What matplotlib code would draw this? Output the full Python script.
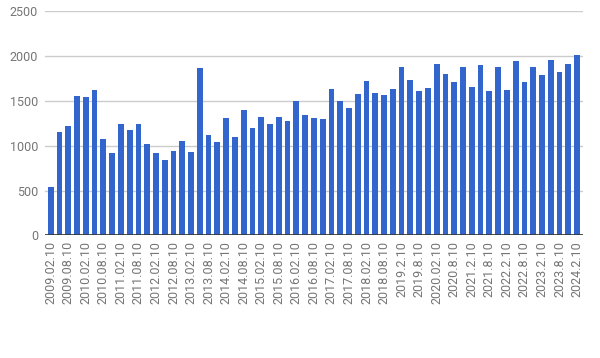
import matplotlib
matplotlib.use("Agg")
import matplotlib.pyplot as plt
import numpy as np

values = [540, 1150, 1216, 1551, 1540, 1618, 1071, 915, 1239, 1172,
          1239, 1016, 915, 837, 937, 1049, 926, 1864, 1116, 1038,
          1306, 1094, 1395, 1194, 1317, 1239, 1317, 1272, 1495, 1339,
          1306, 1295, 1629, 1495, 1417, 1573, 1719, 1585, 1562, 1629,
          1875, 1730, 1607, 1640, 1908, 1797, 1707, 1875, 1652, 1897,
          1607, 1875, 1618, 1942, 1707, 1875, 1786, 1953, 1819, 1908,
          2009]

tick_labels = ["2009.02.10", "2009.08.10", "2010.02.10", "2010.08.10",
               "2011.02.10", "2011.08.10", "2012.02.10", "2012.08.10",
               "2013.02.10", "2013.08.10", "2014.02.10", "2014.08.10",
               "2015.02.10", "2015.08.10", "2016.02.10", "2016.08.10",
               "2017.02.10", "2017.08.10", "2018.02.10", "2018.08.10",
               "2019.2.10", "2019.8.10", "2020.02.10", "2020.8.10",
               "2021.2.10", "2021.8.10", "2022.2.10", "2022.8.10",
               "2023.2.10", "2023.8.10", "2024.2.10"]

plt.rcParams['font.family'] = ['Roboto', 'DejaVu Sans']

fig = plt.figure(figsize=(6.0, 3.58), dpi=100)
ax = fig.add_axes([45/600, 1 - 235.3/358, (583-45)/600, (235.3-11.3)/358])

x = np.arange(len(values))
ax.bar(x, values, width=0.66, color="#3366CC", zorder=3)

ax.set_xlim(-0.65, len(values) - 1 + 0.68)
ax.set_ylim(0, 2500)
ax.set_yticks([0, 500, 1000, 1500, 2000, 2500])
ax.yaxis.grid(True, color="#cccccc", linewidth=1, zorder=0)
ax.axhline(0, color="#333333", linewidth=1.2, zorder=4)

ax.set_xticks(x[::2])
ax.set_xticklabels(tick_labels, rotation=90, fontsize=9, color="#757575")
ax.tick_params(axis='y', labelsize=9, labelcolor="#757575", length=0, pad=5)
ax.tick_params(axis='x', length=0, pad=4)
for s in ax.spines.values():
    s.set_visible(False)

fig.savefig("out.png", dpi=100, facecolor="white")
